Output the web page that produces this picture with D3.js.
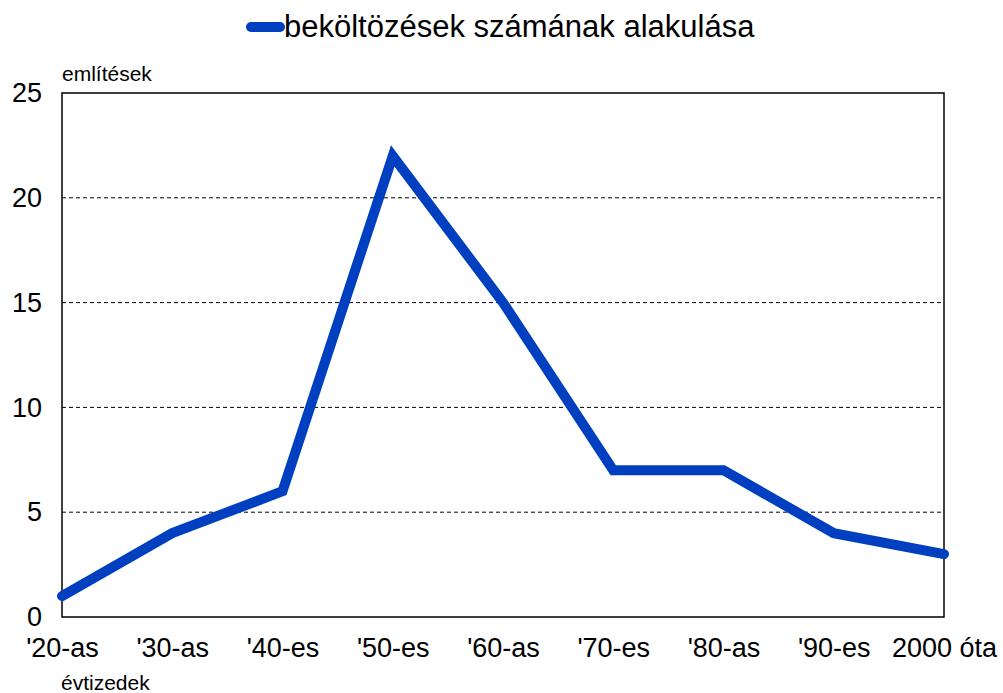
<!DOCTYPE html>
<html>
<head>
<meta charset="utf-8">
<script src="https://cdn.jsdelivr.net/npm/d3@7"></script>
<style>
  body { margin: 0; background: #fff; }
  text { font-family: "Liberation Sans", Arial, sans-serif; fill: #000; }
</style>
</head>
<body>
<div class="chart"></div>
<script>
// data
let decades = ["'20-as", "'30-as", "'40-es", "'50-es", "'60-as", "'70-es", "'80-as", "'90-es", "2000 óta"];
let mentions = [1, 4, 6, 22, 15, 7, 7, 4, 3];
let yTicks = [0, 5, 10, 15, 20, 25];
let seriesName = "beköltözések számának alakulása";

let W = 1003, H = 693;
let margin = {top: 93, right: 59, bottom: 76, left: 62},
  width = W - margin.left - margin.right,
  height = H - margin.top - margin.bottom;

let svg = d3.select(".chart").append("svg")
  .attr("width", W).attr("height", H);

let g = svg.append("g")
  .attr("transform", "translate(" + margin.left + "," + margin.top + ")");

let x = d3.scalePoint().domain(decades).range([0, width]).padding(0);
let y = d3.scaleLinear().domain([0, 25]).range([height, 0]);

// dashed grid
g.selectAll(".grid")
  .data(yTicks.filter(t => t > 0 && t < 25))
  .enter().append("line")
  .attr("x1", 0).attr("x2", width)
  .attr("y1", d => y(d)).attr("y2", d => y(d))
  .attr("stroke", "#000")
  .attr("stroke-width", 1)
  .attr("stroke-dasharray", "4,3");

// frame
g.append("rect")
  .attr("x", 0).attr("y", 0)
  .attr("width", width).attr("height", height)
  .attr("fill", "none")
  .attr("stroke", "#000")
  .attr("stroke-width", 1.5);

// y axis labels
let yAxis = g.append("g").call(d3.axisLeft(y).tickValues(yTicks).tickSize(0).tickPadding(20));
yAxis.select(".domain").remove();
yAxis.selectAll("text")
  .style("font-size", "27px")
  .style("font-family", "'Liberation Sans', Arial, sans-serif")
  .attr("fill", "#000");

// x axis labels
let xAxis = g.append("g")
  .attr("transform", "translate(0," + height + ")")
  .call(d3.axisBottom(x).tickSize(0).tickPadding(21));
xAxis.select(".domain").remove();
xAxis.selectAll("text")
  .style("font-size", "27px")
  .style("font-family", "'Liberation Sans', Arial, sans-serif")
  .attr("fill", "#000");

// line
let line = d3.line()
  .x((d, i) => x(decades[i]))
  .y(d => y(d));

g.append("path")
  .datum(mentions)
  .attr("d", line)
  .attr("fill", "none")
  .attr("stroke", "#0040C0")
  .attr("stroke-width", 10)
  .attr("stroke-linejoin", "miter")
  .attr("stroke-linecap", "round");

// axis titles
svg.append("text")
  .attr("x", 62).attr("y", 81)
  .style("font-size", "21px")
  .text("említések");

svg.append("text")
  .attr("x", 61).attr("y", 690)
  .style("font-size", "21px")
  .text("évtizedek");

// legend
let legend = svg.append("g");
legend.append("line")
  .attr("x1", 251).attr("x2", 280)
  .attr("y1", 27).attr("y2", 27)
  .attr("stroke", "#0040C0")
  .attr("stroke-width", 10)
  .attr("stroke-linecap", "round");
legend.append("text")
  .attr("x", 284).attr("y", 37)
  .style("font-size", "31px")
  .text(seriesName);
</script>
</body>
</html>
